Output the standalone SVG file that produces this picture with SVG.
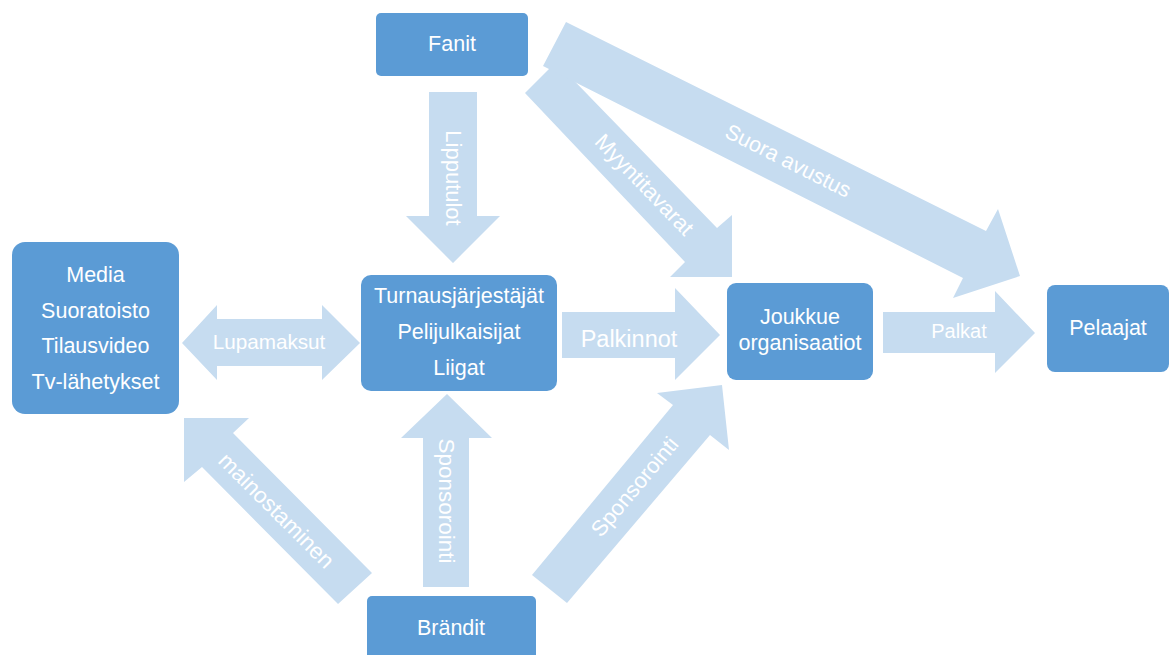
<svg xmlns="http://www.w3.org/2000/svg" width="1171" height="655" viewBox="0 0 1171 655">
<style>
.node{fill:#5B9BD5}
.arr{fill:#C6DCF0}
.nt{font-family:"Liberation Sans",Arial,sans-serif;font-size:21.5px;fill:#FFFFFF;text-anchor:middle}
.lt{font-family:"Liberation Sans",Arial,sans-serif;font-size:21px;fill:#FFFFFF;text-anchor:middle}
</style>
<rect width="1171" height="655" fill="#FFFFFF"/>
<g id="connectors">
  <g id="c-lipputulot">
    <polygon class="arr" points="429,92 477,92 477,216 500,216 453,263 406,216 429,216"/>
    <text class="lt" style="font-size:22px" transform="translate(453,178) rotate(90)" x="0" y="7">Lipputulot</text>
  </g>
  <g id="c-myyntitavarat">
    <polygon class="arr" points="556,62 717,228 732,215 732,277 670,277 685,262 525,93"/>
    <text class="lt" style="font-size:22px" transform="translate(644,185) rotate(46)" x="0" y="7">Myyntitavarat</text>
  </g>
  <g id="c-suora">
    <polygon class="arr" points="566,22 986,231 998,209 1020,276 953,298 963,278 543,66"/>
    <text class="lt" style="font-size:21.5px" transform="translate(788,161) rotate(26.7)" x="0" y="7">Suora avustus</text>
  </g>
  <g id="c-lupamaksut">
    <polygon class="arr" points="182,343 217,305 217,319 322,319 322,305 360,343 322,380 322,366 217,366 217,380"/>
    <text class="lt" x="269" y="349" style="font-size:20.7px">Lupamaksut</text>
  </g>
  <g id="c-palkinnot">
    <polygon class="arr" points="562,312 675,312 675,288 720,335 675,380 675,358 562,358"/>
    <text class="lt" x="629" y="347" style="font-size:23.5px">Palkinnot</text>
  </g>
  <g id="c-palkat">
    <polygon class="arr" points="883,312 995,312 995,291 1035,333 995,373 995,353 883,353"/>
    <text class="lt" x="959" y="338" style="font-size:20px">Palkat</text>
  </g>
  <g id="c-mainostaminen">
    <polygon class="arr" points="184,418 249,418 233,433 372,573 338,604 202,467 184,482"/>
    <text class="lt" style="font-size:22.5px" transform="translate(276,511) rotate(45)" x="0" y="7">mainostaminen</text>
  </g>
  <g id="c-sponsorointi-1">
    <polygon class="arr" points="423,587 423,438 401,438 447,394 492,438 469,438 469,587"/>
    <text class="lt" style="font-size:22.5px" transform="translate(446,501) rotate(90)" x="0" y="7">Sponsorointi</text>
  </g>
  <g id="c-sponsorointi-2">
    <polygon class="arr" points="532,575 673,405 657,393 722,385 729,450 710,435 567,603"/>
    <text class="lt" style="font-size:22px" transform="translate(635,487) rotate(-50)" x="0" y="7">Sponsorointi</text>
  </g>
</g>
<g id="n-fanit">
  <rect class="node" x="376" y="13" width="152" height="63" rx="5"/>
  <text class="nt" x="452" y="51">Fanit</text>
</g>
<g id="n-media">
  <rect class="node" x="12" y="242" width="167" height="172" rx="13"/>
  <text class="nt" x="95.5" y="282">Media</text>
  <text class="nt" x="95.5" y="317.5">Suoratoisto</text>
  <text class="nt" x="95.5" y="353">Tilausvideo</text>
  <text class="nt" x="95.5" y="388.5">Tv-lähetykset</text>
</g>
<g id="n-turnaus">
  <rect class="node" x="361" y="275" width="196" height="116" rx="10"/>
  <text class="nt" x="459" y="303">Turnausjärjestäjät</text>
  <text class="nt" x="459" y="339">Pelijulkaisijat</text>
  <text class="nt" x="459" y="375">Liigat</text>
</g>
<g id="n-joukkue">
  <rect class="node" x="727" y="283" width="146" height="97" rx="9"/>
  <text class="nt" x="800" y="324">Joukkue</text>
  <text class="nt" x="800" y="350">organisaatiot</text>
</g>
<g id="n-pelaajat">
  <rect class="node" x="1047" y="285" width="122" height="87" rx="8"/>
  <text class="nt" x="1108" y="335">Pelaajat</text>
</g>
<g id="n-brandit">
  <rect class="node" x="367" y="596" width="169" height="75" rx="5"/>
  <text class="nt" x="451" y="635">Brändit</text>
</g>
</svg>
